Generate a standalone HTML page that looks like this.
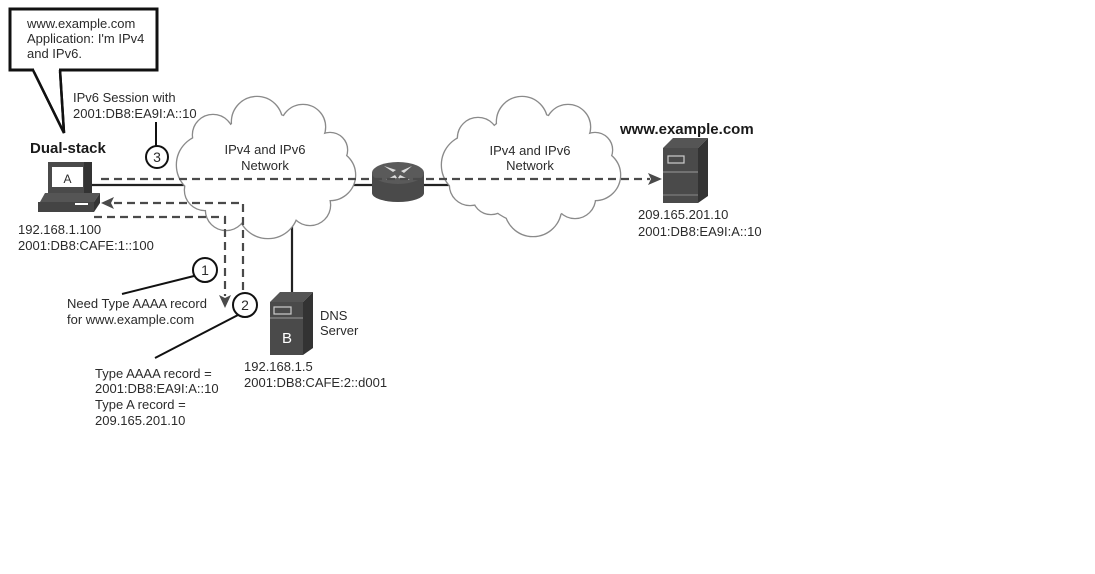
<!DOCTYPE html>
<html><head><meta charset="utf-8"><style>
html,body{margin:0;padding:0;background:#fff;}
svg{display:block;}
text{font-family:"Liberation Sans",Arial,sans-serif;fill:#2b2b2b;font-size:13px;}
.b{font-weight:bold;font-size:15px;fill:#1a1a1a;}
</style></head><body>
<svg width="1095" height="574" viewBox="0 0 1095 574" xmlns="http://www.w3.org/2000/svg">
<rect width="1095" height="574" fill="#fff"/>

<!-- solid lines under clouds -->
<g stroke="#222" stroke-width="2.2" fill="none">
<line x1="90" y1="185" x2="190" y2="185"/>
<line x1="340" y1="185" x2="380" y2="185"/>
<line x1="420" y1="185" x2="455" y2="185"/>
<line x1="292" y1="220" x2="292" y2="296"/>
</g>

<!-- cloud 1 -->
<g>
<g fill="none" stroke="#8a8a8a" stroke-width="2.6">
<circle cx="265" cy="168" r="55"/><circle cx="207" cy="165" r="30"/><circle cx="213" cy="135" r="20"/>
<circle cx="257" cy="122" r="25"/><circle cx="303" cy="127" r="22"/><circle cx="330" cy="150" r="17"/>
<circle cx="330" cy="175" r="25"/><circle cx="310" cy="205" r="20"/><circle cx="268" cy="208" r="30"/>
<circle cx="226" cy="210" r="20"/><circle cx="205" cy="190" r="20"/>
</g>
<g fill="#fff">
<circle cx="265" cy="168" r="55"/><circle cx="207" cy="165" r="30"/><circle cx="213" cy="135" r="20"/>
<circle cx="257" cy="122" r="25"/><circle cx="303" cy="127" r="22"/><circle cx="330" cy="150" r="17"/>
<circle cx="330" cy="175" r="25"/><circle cx="310" cy="205" r="20"/><circle cx="268" cy="208" r="30"/>
<circle cx="226" cy="210" r="20"/><circle cx="205" cy="190" r="20"/>
</g>
</g>
<!-- cloud 2 -->
<g transform="translate(265,0)">
<g fill="none" stroke="#8a8a8a" stroke-width="2.6">
<circle cx="265" cy="168" r="55"/><circle cx="207" cy="165" r="30"/><circle cx="213" cy="138" r="20"/>
<circle cx="257" cy="122" r="25"/><circle cx="303" cy="127" r="22"/><circle cx="330" cy="150" r="17"/>
<circle cx="330" cy="175" r="25"/><circle cx="310" cy="198" r="20"/><circle cx="268" cy="208" r="28"/>
<circle cx="226" cy="196" r="18"/><circle cx="205" cy="185" r="20"/>
</g>
<g fill="#fff">
<circle cx="265" cy="168" r="55"/><circle cx="207" cy="165" r="30"/><circle cx="213" cy="138" r="20"/>
<circle cx="257" cy="122" r="25"/><circle cx="303" cy="127" r="22"/><circle cx="330" cy="150" r="17"/>
<circle cx="330" cy="175" r="25"/><circle cx="310" cy="198" r="20"/><circle cx="268" cy="208" r="28"/>
<circle cx="226" cy="196" r="18"/><circle cx="205" cy="185" r="20"/>
</g>
</g>

<!-- cloud labels -->
<text x="265" y="154" text-anchor="middle">IPv4 and IPv6</text>
<text x="265" y="170" text-anchor="middle">Network</text>
<text x="530" y="155" text-anchor="middle">IPv4 and IPv6</text>
<text x="530" y="170" text-anchor="middle">Network</text>

<!-- router -->
<g>
<path d="M372 173 L372 193 A26 9 0 0 0 424 193 L424 173 Z" fill="#4a4a4a"/>
<ellipse cx="398" cy="173" rx="26" ry="11" fill="#5a5a5a"/>
<g fill="#ddd">
<path d="M384 166 L396 170 L393 172 Z"/>
<path d="M412 166 L401 171 L404 173 Z"/>
<path d="M386 180 L395 175 L397 178 Z"/>
<path d="M410 180 L400 175 L398 178 Z"/>
</g>
</g>

<!-- dashed lines -->
<g stroke="#4a4a4a" stroke-width="2.2" fill="none" stroke-dasharray="8,5">
<line x1="101" y1="179" x2="650" y2="179"/>
<polyline points="114,203 243,203 243,293"/>
<polyline points="94,217 225,217 225,296"/>
</g>
<g fill="#4a4a4a">
<path d="M662 179 L648 173 L651 179 L648 185 Z"/>
<path d="M101 203 L114 197 L111 203 L114 209 Z"/>
<path d="M225 308 L219 295 L225 298 L231 295 Z"/>
</g>

<!-- PC -->
<g>
<rect x="48" y="162" width="44" height="31" fill="#4a4a4a"/>
<path d="M84 162 L92 162 L92 193 L84 193 Z" fill="#333"/>
<rect x="52" y="167" width="31" height="20" fill="#fff"/>
<text x="67.5" y="183" text-anchor="middle" style="font-size:12px">A</text>
<path d="M45 193 L100 193 L94 202 L40 202 Z" fill="#555"/>
<rect x="38" y="202" width="56" height="10" fill="#444"/>
<path d="M94 202 L100 193 L100 203 L94 212 Z" fill="#333"/>
<rect x="75" y="203" width="13" height="2" fill="#fff"/>
</g>

<!-- DNS server -->
<g>
<path d="M270 302 L280 292 L313 292 L303 302 Z" fill="#555"/>
<path d="M303 302 L313 292 L313 348 L303 355 Z" fill="#333"/>
<rect x="270" y="302" width="33" height="53" fill="#4a4a4a"/>
<rect x="274" y="307" width="17" height="7" fill="none" stroke="#ccc" stroke-width="1.2"/>
<line x1="270" y1="318" x2="303" y2="318" stroke="#999" stroke-width="1"/>
<text x="287" y="343" text-anchor="middle" style="font-size:15px;fill:#fff">B</text>
</g>

<!-- web server -->
<g>
<path d="M663 148 L673 138 L708 138 L698 148 Z" fill="#555"/>
<path d="M698 148 L708 138 L708 196 L698 203 Z" fill="#333"/>
<rect x="663" y="148" width="35" height="55" fill="#4a4a4a"/>
<rect x="668" y="156" width="16" height="7" fill="none" stroke="#ccc" stroke-width="1.2"/>
<line x1="663" y1="172" x2="698" y2="172" stroke="#999" stroke-width="1"/>
<line x1="663" y1="195" x2="698" y2="195" stroke="#888" stroke-width="1"/>
</g>

<!-- callout -->
<g>
<path d="M33 70 L64 133 L60 70" fill="#fff" stroke="#111" stroke-width="2.5" stroke-linejoin="miter"/>
<rect x="10" y="9" width="147" height="61" fill="#fff" stroke="#111" stroke-width="3"/>
<line x1="34" y1="70" x2="59" y2="70" stroke="#fff" stroke-width="4"/>
<path d="M33 70 L64 133 L60 70" fill="none" stroke="#111" stroke-width="2.5"/>
<text x="27" y="28">www.example.com</text>
<text x="27" y="43">Application: I'm IPv4</text>
<text x="27" y="58">and IPv6.</text>
</g>

<!-- labels -->
<text x="73" y="102">IPv6 Session with</text>
<text x="73" y="118">2001:DB8:EA9I:A::10</text>
<line x1="156" y1="122" x2="156" y2="146" stroke="#111" stroke-width="2"/>
<circle cx="157" cy="157" r="11" fill="#fff" stroke="#111" stroke-width="2"/>
<text x="157" y="162" text-anchor="middle" style="font-size:14px">3</text>

<text x="30" y="153" class="b">Dual-stack</text>
<text x="18" y="234">192.168.1.100</text>
<text x="18" y="250">2001:DB8:CAFE:1::100</text>

<line x1="194" y1="276" x2="122" y2="294" stroke="#111" stroke-width="2"/>
<circle cx="205" cy="270" r="12" fill="#fff" stroke="#111" stroke-width="2"/>
<text x="205" y="275" text-anchor="middle" style="font-size:14px">1</text>

<line x1="238" y1="315" x2="155" y2="358" stroke="#111" stroke-width="2"/>
<circle cx="245" cy="305" r="12" fill="#fff" stroke="#111" stroke-width="2"/>
<text x="245" y="310" text-anchor="middle" style="font-size:14px">2</text>

<text x="67" y="308">Need Type AAAA record</text>
<text x="67" y="324">for www.example.com</text>

<text x="95" y="378">Type AAAA record =</text>
<text x="95" y="393">2001:DB8:EA9I:A::10</text>
<text x="95" y="409">Type A record =</text>
<text x="95" y="425">209.165.201.10</text>

<text x="320" y="320">DNS</text>
<text x="320" y="335">Server</text>
<text x="244" y="371">192.168.1.5</text>
<text x="244" y="387">2001:DB8:CAFE:2::d001</text>

<text x="620" y="134" class="b">www.example.com</text>
<text x="638" y="219">209.165.201.10</text>
<text x="638" y="236">2001:DB8:EA9I:A::10</text>
</svg>
</body></html>
